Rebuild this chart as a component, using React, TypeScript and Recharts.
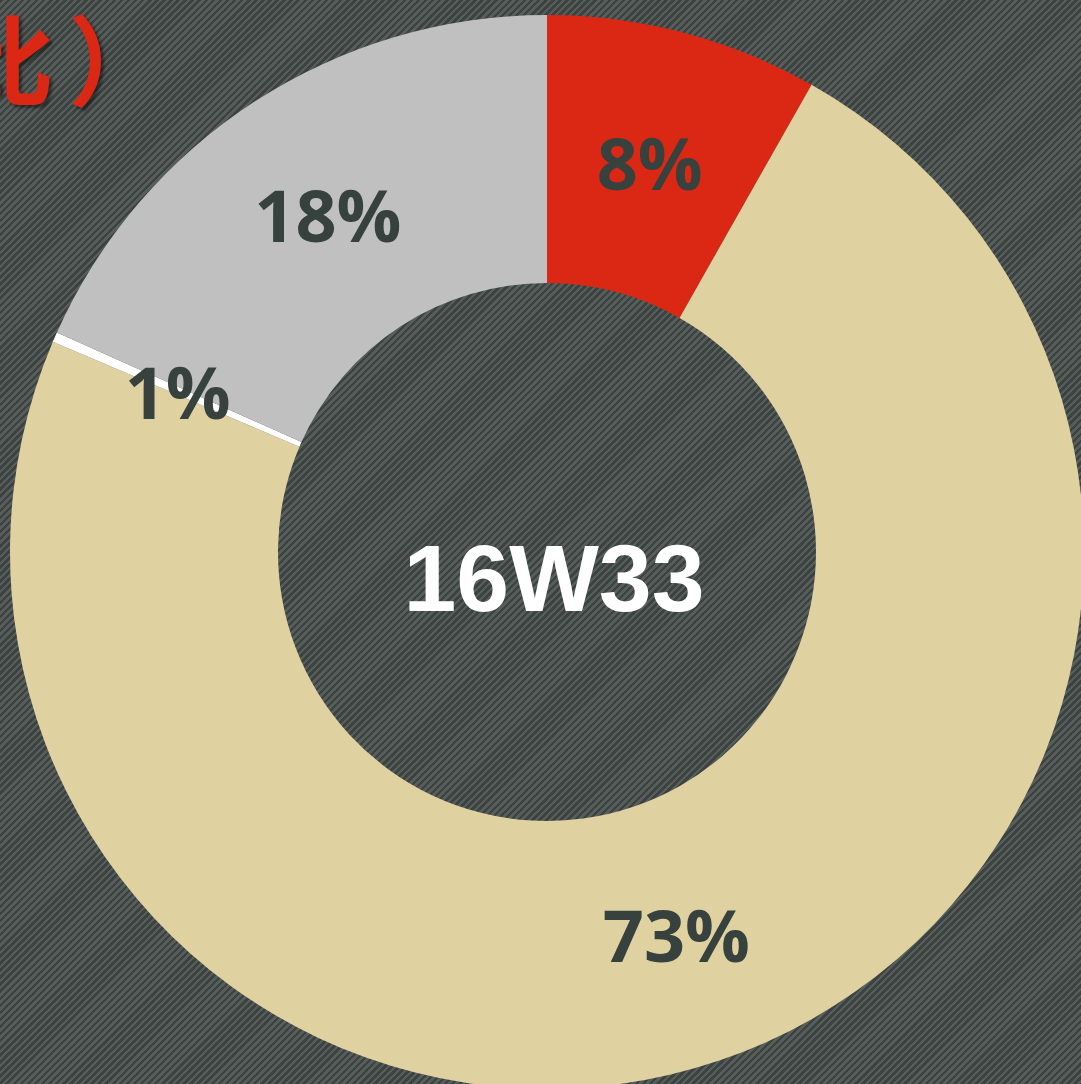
import React from 'react';
import { PieChart, Pie, Cell, Label } from 'recharts';

const segments = ['red', 'beige', 'white', 'gray'];
const shares = [8.2, 73.2, 0.3, 18.3];
const shareLabels = ['8%', '73%', '1%', '18%'];
const centerTitle = '16W33';

const COLORS = ['#da2815', '#dfd1a0', '#ffffff', '#c0c0c0'];
const LABEL_COLOR = '#37423e';

const CX = 547;
const CY = 552;

const data = segments.map((name, i) => ({ name, value: shares[i], label: shareLabels[i] }));

const RADIAN = Math.PI / 180;

const renderLabel = (props: any) => {
  const { cx, cy, midAngle, innerRadius, outerRadius, index } = props;
  const r = (innerRadius + outerRadius) / 2;
  const x = cx + r * Math.cos(-midAngle * RADIAN);
  const y = cy + r * Math.sin(-midAngle * RADIAN);
  return (
    <text
      x={x}
      y={y}
      fill={LABEL_COLOR}
      textAnchor="middle"
      dominantBaseline="central"
      style={{ fontFamily: '"Open Sans", Lato, sans-serif', fontWeight: 700, fontSize: 72 }}
    >
      {data[index].label}
    </text>
  );
};

// centre title sits a bit low and right of the hole in the original
const renderCenter = () => (
  <text
    x={CX + 7}
    y={CY + 26}
    fill="#ffffff"
    textAnchor="middle"
    dominantBaseline="central"
    style={{ fontFamily: '"Liberation Sans", Arial, sans-serif', fontWeight: 700, fontSize: 95 }}
  >
    {centerTitle}
  </text>
);

export default function App() {
  return (
    <div
      style={{
        position: 'fixed',
        left: 0,
        top: 0,
        width: 1081,
        height: 1084,
        overflow: 'hidden',
        background: 'repeating-linear-gradient(135deg, #3b4341 0px, #3b4341 2.5px, #585c5a 2.5px, #585c5a 5px)',
      }}
    >
      <div
        style={{
          position: 'absolute',
          left: -44,
          top: -5,
          color: '#da2815',
          fontFamily: '"Noto Sans CJK SC", sans-serif',
          fontWeight: 700,
          fontSize: 98,
          lineHeight: '120px',
          letterSpacing: 14,
          whiteSpace: 'nowrap',
          textShadow: '3px 3px 3px rgba(0,0,0,0.45)',
        }}
      >
        比）
      </div>
      <PieChart
        width={1081}
        height={1084}
        margin={{ top: 0, right: 0, bottom: 0, left: 0 }}
        style={{ position: 'absolute', left: 0, top: 0 }}
      >
        <Pie
          data={data}
          dataKey="value"
          nameKey="name"
          cx={CX}
          cy={CY}
          innerRadius={269}
          outerRadius={537}
          startAngle={90}
          endAngle={-270}
          stroke="none"
          label={renderLabel}
          labelLine={false}
          isAnimationActive={false}
        >
          {data.map((d, i) => (
            <Cell key={d.name} fill={COLORS[i]} />
          ))}
          <Label position="center" content={renderCenter} />
        </Pie>
      </PieChart>
    </div>
  );
}
